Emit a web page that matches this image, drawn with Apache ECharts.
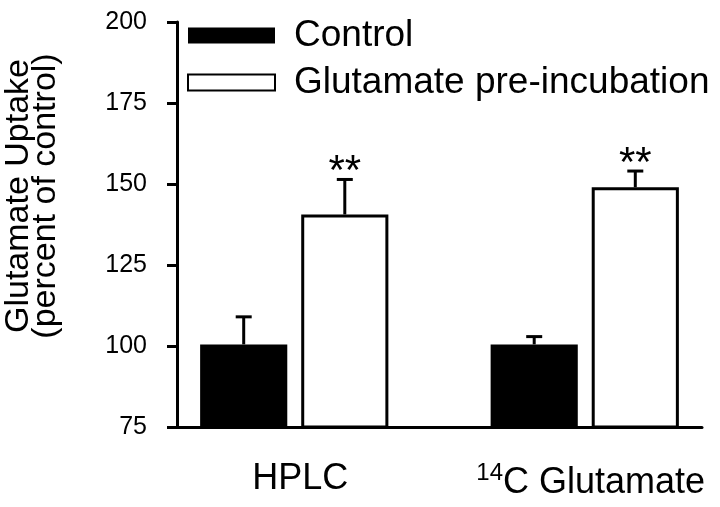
<!DOCTYPE html>
<html>
<head>
<meta charset="utf-8">
<script src="https://cdn.jsdelivr.net/npm/echarts@6/dist/echarts.min.js"></script>
<style>
  html, body { margin: 0; padding: 0; background: #fff; }
  #main { width: 720px; height: 507px; }
</style>
</head>
<body>
<div id="main"></div>
<script>
// values
var categories = ['HPLC', '14C Glutamate'];
var controlMean = [100.5, 100.5];
var controlSem = [8.5, 2.4];
var glutMean = [140.6, 149.0];
var glutSem = [10.8, 5.0];
var glutStars = ['**', '**'];
var yTicks = { min: 75, max: 200, step: 25 };

var FONT = '"Liberation Sans", Arial, sans-serif';
var BAR_W = 0.3, BAR_GAP = 0.16;

var errData = [];
categories.forEach(function (c, i) {
  errData.push([i, controlMean[i], controlSem[i], -1, '']);
  errData.push([i, glutMean[i], glutSem[i], 1, glutStars[i]]);
});

function renderErr(params, api) {
  var idx = api.value(0), v = api.value(1), e = api.value(2), side = api.value(3);
  var star = errData[params.dataIndex][4];
  var band = api.size([1, 0])[0];
  var bw = band * BAR_W;
  var off = side * (bw + bw * BAR_GAP) / 2;
  var base = api.coord([idx, v]);
  var top = api.coord([idx, v + e]);
  var cx = base[0] + off;
  var st = { stroke: '#000', lineWidth: 3 };
  var kids = [
    { type: 'line', shape: { x1: cx, y1: base[1], x2: cx, y2: top[1] }, style: st },
    { type: 'line', shape: { x1: cx - 8, y1: top[1], x2: cx + 8, y2: top[1] }, style: st }
  ];
  if (star) {
    kids.push({
      type: 'text', x: cx, y: top[1] - 7,
      style: { text: star, fill: '#000', font: '42px ' + FONT, align: 'center', verticalAlign: 'middle' }
    });
  }
  return { type: 'group', children: kids };
}

var chart = echarts.init(document.getElementById('main'));
chart.setOption({
  backgroundColor: '#fff',
  animation: false,
  grid: [
    { left: 177, right: 18, top: 22, bottom: 80, outerBoundsMode: 'none' },
    { left: 149, width: 581, top: 22, bottom: 80, outerBoundsMode: 'none' }
  ],
  legend: {
    data: ['Control', 'Glutamate pre-incubation'],
    orient: 'vertical',
    left: 187,
    top: 17,
    padding: 0,
    itemWidth: 87,
    itemHeight: 16,
    itemGap: 10,
    icon: 'rect',
    textStyle: { fontFamily: FONT, fontSize: 37, color: '#000', padding: [0, 0, 0, 14] }
  },
  xAxis: [
    {
      gridIndex: 0, type: 'category', data: categories,
      axisLine: { lineStyle: { color: '#000', width: 3 } },
      axisTick: { show: false }, axisLabel: { show: false }
    },
    {
      gridIndex: 1, type: 'category', data: categories,
      axisLine: { show: false }, axisTick: { show: false },
      axisLabel: {
        interval: 0,
        margin: 34,
        padding: [0, 0, 0, 12],
        fontFamily: FONT, fontSize: 36, color: '#000',
        formatter: function (v) {
          return v.indexOf('14C') === 0 ? '{sup|14}{main|' + v.slice(2) + '}' : '{main|' + v + '}';
        },
        rich: {
          main: { fontFamily: FONT, fontSize: 36, color: '#000' },
          sup: { fontFamily: FONT, fontSize: 24, color: '#000', padding: [0, 0, 20, 0] }
        }
      }
    }
  ],
  yAxis: [
    {
      gridIndex: 0, type: 'value', min: yTicks.min, max: yTicks.max, interval: yTicks.step,
      axisLine: { show: true, lineStyle: { color: '#000', width: 3 } },
      axisTick: { show: true, length: 10, lineStyle: { color: '#000', width: 3 } },
      axisLabel: { margin: 30, fontFamily: FONT, fontSize: 25, color: '#000' },
      splitLine: { show: false }
    },
    {
      gridIndex: 1, type: 'value', min: yTicks.min, max: yTicks.max, interval: yTicks.step,
      show: false
    }
  ],
  graphic: [{
    type: 'text', x: 32, y: 196, rotation: Math.PI / 2,
    style: {
      text: 'Glutamate Uptake\n(percent of control)',
      font: '34px ' + FONT, lineHeight: 27, fill: '#000',
      align: 'center', verticalAlign: 'middle'
    }
  }],
  series: [
    {
      name: 'Control', type: 'bar', xAxisIndex: 1, yAxisIndex: 1,
      data: controlMean, barWidth: (BAR_W * 100) + '%', barGap: (BAR_GAP * 100) + '%',
      itemStyle: { color: '#000', borderColor: '#000', borderWidth: 0 }
    },
    {
      name: 'Glutamate pre-incubation', type: 'bar', xAxisIndex: 1, yAxisIndex: 1,
      data: glutMean, barWidth: (BAR_W * 100) + '%', barGap: (BAR_GAP * 100) + '%',
      itemStyle: { color: '#fff', borderColor: '#000', borderWidth: 3 }
    },
    {
      name: 'err', type: 'custom', xAxisIndex: 1, yAxisIndex: 1,
      renderItem: renderErr, data: errData, z: 5, silent: true
    }
  ]
});
</script>
</body>
</html>
